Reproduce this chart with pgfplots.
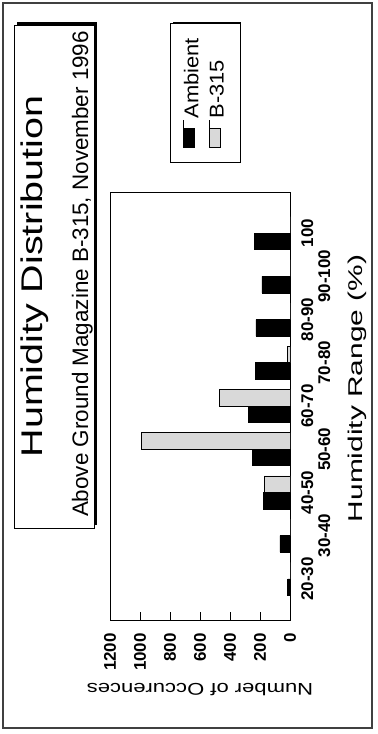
\documentclass[border=0pt]{standalone}
\usepackage{fontspec}
\setmainfont{Liberation Sans}
\usepackage{graphicx}
\usepackage{pgfplots}
\pgfplotsset{compat=1.18}

\pgfplotstableread{
cat amb b315
0 15 0
1 67 0
2 180 173
3 253 993
4 280 473
5 233 20
6 227 0
7 187 0
8 240 0
}\humid

\begin{document}
\begin{tikzpicture}[x=1bp,y=1bp]
\useasboundingbox (0,0) rectangle (377,734);
\draw[line width=1.2bp, black!75] (3,6) rectangle (372,731);
% title box with shadow
\fill[black] (17,209) rectangle (97,712);
\draw[fill=white, line width=0.8bp] (14,206) rectangle (94,709);
\node[rotate=90, anchor=base, inner sep=0pt] at (42,457.5) {\fontsize{30}{36}\selectfont\scalebox{1.32}[1]{Humidity Distribution}};
\node[rotate=90, anchor=base, inner sep=0pt] at (88,460) {\fontsize{22.5}{27}\selectfont Above Ground Magazine B-315, November 1996};
% legend shadow
\fill[black] (173,574) rectangle (241,712);

\begin{axis}[
  at={(110bp,114bp)}, anchor=south west,
  scale only axis, width=180bp, height=428bp,
  xbar=0pt, bar width=16.5bp,
  x dir=reverse,
  xmin=0, xmax=1200,
  xtick={0,200,...,1200},
  scaled x ticks=false,
  /pgf/number format/assume math mode=true,
  /pgf/number format/1000 sep={},
  ymin=-0.95, ymax=8.95,
  ytick={0,2,4,6,8},
  yticklabels={20-30,40-50,60-70,80-90,100},
  extra y ticks={1,3,5,7},
  extra y tick labels={30-40,50-60,70-80,90-100},
  extra y tick style={major tick length=0pt, yticklabel shift=28bp},
  yticklabel pos=right,
  yticklabel shift=11bp,
  ytick style={draw=none},
  xtick pos=left,
  major tick length=8bp,
  tick align=inside,
  axis line style={line width=0.8bp},
  tick style={line width=0.8bp, black},
  xticklabel shift=13bp,
  xticklabel style={rotate=90, anchor=east, inner sep=0pt, font=\bfseries\fontsize{17}{17}\selectfont},
  yticklabel style={rotate=90, anchor=north, inner sep=0pt, font=\bfseries\fontsize{17}{17}\selectfont},
  ylabel={\scalebox{1.5}[1]{Humidity Range (\%)}},
  ylabel style={at={(axis description cs:1.4,0.541)}, anchor=base, inner sep=0pt, font=\fontsize{20}{24}\selectfont},
  xlabel={\scalebox{1.3}[1]{Number of Occurences}},
  xlabel style={at={(axis description cs:0.5,-0.1636)}, anchor=center, rotate=180, inner sep=0pt, font=\fontsize{17}{20}\selectfont},
  legend columns=2,
  legend image code/.code={\draw[#1,/tikz/.cd,overlay] (0bp,-27bp) rectangle (11bp,-8bp); \path (0bp,-27bp) -- (0bp,0bp);},
  legend style={at={(axis description cs:0.3333,1.0678)}, anchor=south west,
    draw=black, line width=0.8bp, fill=white,
    inner xsep=13bp, inner ysep=15bp, column sep=0pt,
    cells={anchor=south west},
    nodes={inner sep=0pt},
    font=\fontsize{20}{24}\selectfont},
]
\addplot[draw=black, fill=black, line width=0.6bp, bar shift=-8.25bp] table[x=amb, y=cat] {\humid};
\addlegendentry{\rotatebox{90}{\scalebox{1.1}[1]{Ambient}}\rule{10.4bp}{0pt}}
\addplot[draw=black, fill=black!15, line width=0.6bp, bar shift=8.25bp] table[x=b315, y=cat] {\humid};
\addlegendentry{\rotatebox{90}{\scalebox{1.1}[1]{B-315}}\rule{3.4bp}{0pt}}
\end{axis}
\end{tikzpicture}
\end{document}
